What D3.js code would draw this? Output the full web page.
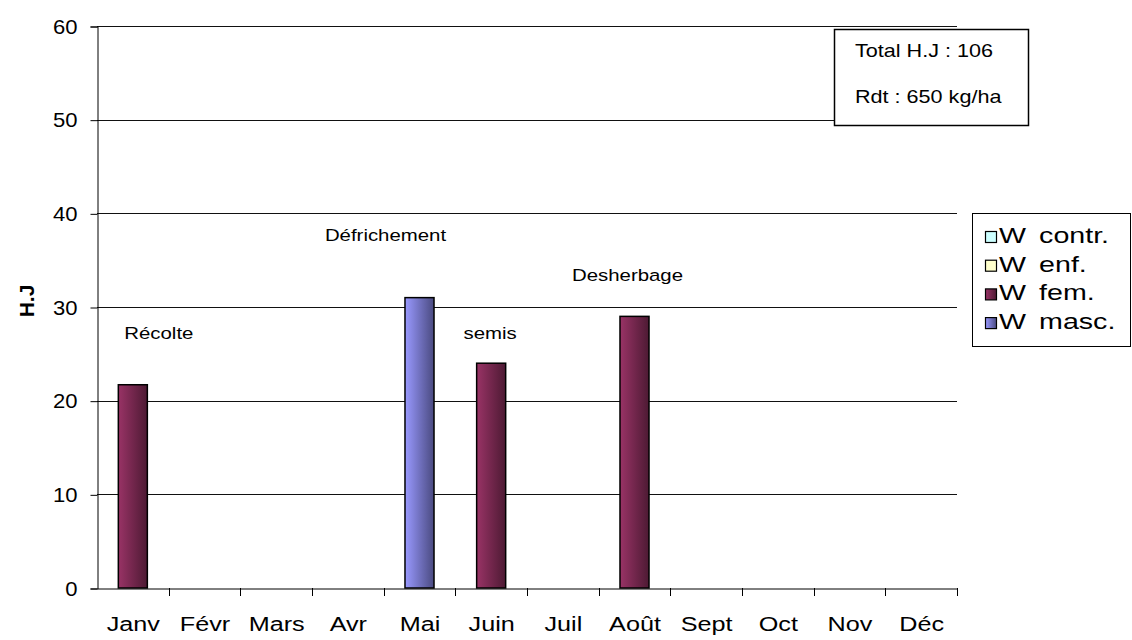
<!DOCTYPE html>
<html>
<head>
<meta charset="utf-8">
<script src="https://cdn.jsdelivr.net/npm/d3@7"></script>
<style>
  body { margin: 0; background: #fff; }
  svg { display: block; font-family: Arial, "Liberation Sans", sans-serif; }
</style>
</head>
<body>
<svg id="chart" width="1132" height="640"></svg>
<script>
const months = ["Janv","Févr","Mars","Avr","Mai","Juin","Juil","Août","Sept","Oct","Nov","Déc"];
const seriesNames = ["W contr.","W enf.","W fem.","W masc."];
const wContr = [0,0,0,0,0,0,0,0,0,0,0,0];
const wEnf   = [0,0,0,0,0,0,0,0,0,0,0,0];
const wFem   = [21.7,0,0,0,0,24,0,29,0,0,0,0];
const wMasc  = [0,0,0,0,31,0,0,0,0,0,0,0];
const yTicks = [0,10,20,30,40,50,60];
const annotations = [
  {month:"Janv", text:"Récolte", value:27.1, dx:26},
  {month:"Mai", text:"Défrichement", value:37.5, dx:-34},
  {month:"Juin", text:"semis", value:27.1, dx:-1},
  {month:"Août", text:"Desherbage", value:33.3, dx:-7}
];
const infoLines = ["Total H.J : 106", "Rdt : 650 kg/ha"];

const rows = months.map((m,i) => ({month:m, "W contr.":wContr[i], "W enf.":wEnf[i], "W fem.":wFem[i], "W masc.":wMasc[i]}));

const svg = d3.select("#chart");
const pL = 97, pR = 957, pT = 26, pB = 588;
const FONT = "Arial, 'Liberation Sans', sans-serif";

const x = d3.scaleBand().domain(months).range([pL, pR]).padding(0);
const y = d3.scaleLinear().domain([0,60]).range([pB, pT]);

// horizontally widen text, as in the reference rendering
function stretch(sel, sx) {
  sel.each(function() {
    const t = d3.select(this);
    const tx = +t.attr("x") || 0, ty = +t.attr("y") || 0;
    t.attr("x", 0).attr("y", 0).attr("transform", `translate(${tx},${ty}) scale(${sx},1)`);
  });
}

const defs = svg.append("defs");
function grad(id, c1, c2) {
  const g = defs.append("linearGradient").attr("id", id).attr("x1","0%").attr("x2","100%").attr("y1","0%").attr("y2","0%");
  g.append("stop").attr("offset","0%").attr("stop-color", c1);
  g.append("stop").attr("offset","100%").attr("stop-color", c2);
}
grad("gContr", "#CCFFFF", "#CCFFFF");
grad("gEnf", "#FFFFCC", "#FFFFCC");
grad("gFem", "#993366", "#4d1a33");
grad("gMasc", "#9999FF", "#4a4a80");
const fills = {"W contr.":"url(#gContr)","W enf.":"url(#gEnf)","W fem.":"url(#gFem)","W masc.":"url(#gMasc)"};

// gridlines
svg.append("g").selectAll("line").data(yTicks.filter(d => d > 0)).join("line")
  .attr("x1", pL).attr("x2", pR)
  .attr("y1", d => Math.round(y(d)) + 0.5).attr("y2", d => Math.round(y(d)) + 0.5)
  .attr("stroke", "#111").attr("stroke-width", 1);

// y axis
const yAxis = d3.axisLeft(y).tickValues(yTicks).tickSize(7).tickPadding(13);
const yg = svg.append("g").attr("transform", `translate(${pL + 0.5},0.5)`).call(yAxis);
yg.select(".domain").attr("stroke", "#000");
yg.selectAll(".tick line").attr("stroke", "#000");
yg.selectAll("text").attr("font-size", 21).attr("fill", "#000").attr("font-family", FONT);
stretch(yg.selectAll("text"), 1.05);

// x axis
const xAxis = d3.axisBottom(x).tickSize(0).tickPadding(28);
const xg = svg.append("g").attr("transform", `translate(0.5,${pB + 0.5})`).call(xAxis);
xg.select(".domain").attr("stroke", "#000");
xg.selectAll("text").attr("font-size", 21).attr("fill", "#000").attr("font-family", FONT);
stretch(xg.selectAll("text"), 1.2);
// tick marks at band boundaries
svg.append("g").selectAll("line").data(months.slice(1).concat(["__end"])).join("line")
  .attr("x1", d => Math.round(d === "__end" ? pR : x(d)) + 0.5)
  .attr("x2", d => Math.round(d === "__end" ? pR : x(d)) + 0.5)
  .attr("y1", pB).attr("y2", pB + 8)
  .attr("stroke", "#000");

// bars
const stacked = d3.stack().keys(seriesNames)(rows);
const barW = x.bandwidth() * 0.405;
stacked.forEach(s => {
  svg.append("g").selectAll("rect").data(s.filter(d => d[1] - d[0] > 0)).join("rect")
    .attr("x", d => x(d.data.month) + (x.bandwidth() - barW) / 2)
    .attr("y", d => y(d[1]))
    .attr("width", barW)
    .attr("height", d => y(d[0]) - y(d[1]))
    .attr("fill", fills[s.key])
    .attr("stroke", "#000").attr("stroke-width", 1.5);
});

// annotations
const ann = svg.append("g").selectAll("text").data(annotations).join("text")
  .attr("x", d => x(d.month) + x.bandwidth() / 2 + d.dx)
  .attr("y", d => y(d.value))
  .attr("text-anchor", "middle").attr("dominant-baseline", "middle")
  .attr("font-size", 17).attr("fill", "#000")
  .text(d => d.text);
stretch(ann, 1.2);

// y title
svg.append("text")
  .attr("transform", `translate(28,${(pT + pB) / 2 - 6}) rotate(-90)`)
  .attr("text-anchor", "middle").attr("dominant-baseline", "middle")
  .attr("font-size", 21).attr("font-weight", "bold").text("H.J");

// info box
const ib = svg.append("g");
ib.append("rect").attr("x", 834.5).attr("y", 29.5).attr("width", 194).attr("height", 96)
  .attr("fill", "#fff").attr("stroke", "#000").attr("stroke-width", 1.5);
const ibt = ib.selectAll("text").data(infoLines).join("text")
  .attr("x", 855).attr("y", (d,i) => 52 + i * 46)
  .attr("dominant-baseline", "middle").attr("font-size", 18).text(d => d);
stretch(ibt, 1.2);

// legend
const lg = svg.append("g");
lg.append("rect").attr("x", 972.5).attr("y", 213.5).attr("width", 158).attr("height", 133)
  .attr("fill", "#fff").attr("stroke", "#000").attr("stroke-width", 1);
const li = lg.selectAll("g").data(seriesNames).join("g")
  .attr("transform", (d,i) => `translate(0,${237 + i * 28.7})`);
li.append("rect").attr("x", 985.5).attr("y", -5.5).attr("width", 11).attr("height", 11)
  .attr("fill", d => fills[d]).attr("stroke", "#000").attr("stroke-width", 1.2);
const lt = li.append("text").attr("x", 999).attr("y", 0).attr("dominant-baseline", "middle")
  .attr("font-size", 22).attr("word-spacing", 4).text(d => d);
stretch(lt, 1.3);
</script>
</body>
</html>
